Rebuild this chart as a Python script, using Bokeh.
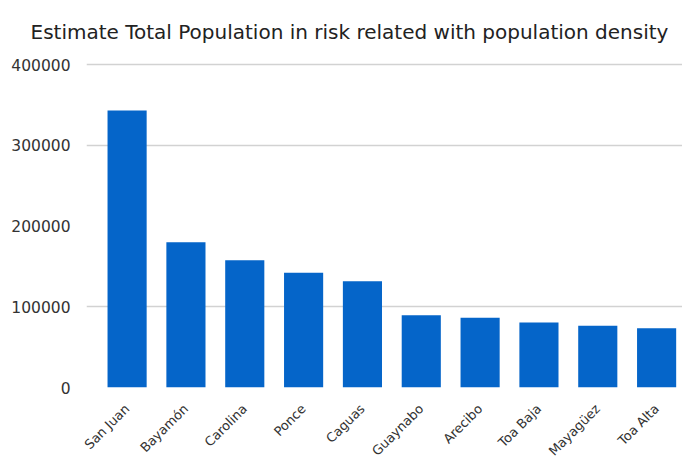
from bokeh.plotting import figure
from bokeh.models import Range1d, FixedTicker, BasicTickFormatter
from bokeh.embed import file_html
from bokeh.resources import INLINE

# Municipalities and estimated population at risk
cities = ["San Juan", "Bayamón", "Carolina", "Ponce", "Caguas",
          "Guaynabo", "Arecibo", "Toa Baja", "Mayagüez", "Toa Alta"]
population = [343000, 180000, 157500, 142000, 131500,
              89500, 86500, 80500, 76500, 73500]
y_ticks = [0, 100000, 200000, 300000, 400000]
grid_ticks = [100000, 300000, 400000]
title_text = "Estimate Total Population in risk related with population density"

positions = list(range(len(cities)))

font = "DejaVu Sans"
label_color = "#333333"

p = figure(width=682, height=469, output_backend="svg", toolbar_location=None,
           title=title_text,
           x_range=Range1d(-0.69, 9.44), y_range=Range1d(0, 402500),
           min_border_left=86, min_border_right=0, min_border_top=62,
           min_border_bottom=82)
p.outline_line_color = None
p.background_fill_color = "white"
p.border_fill_color = "white"

p.title.align = "left"
p.title.offset = -56
p.title.vertical_align = "top"
p.title.text_font = font
p.title.text_font_size = "20px"
p.title.text_font_style = "normal"
p.title.text_color = "#222222"
p.title.standoff = 33

p.vbar(x=positions, top=population, width=0.665, bottom=0,
       fill_color="#0565c9", line_color=None)

# y axis
p.yaxis.ticker = FixedTicker(ticks=y_ticks)
p.yaxis.formatter = BasicTickFormatter(use_scientific=False)
p.yaxis.axis_line_color = None
p.yaxis.major_tick_line_color = None
p.yaxis.minor_tick_line_color = None
p.yaxis.major_label_standoff = 10
p.yaxis.major_label_text_font = font
p.yaxis.major_label_text_font_size = "15.5px"
p.yaxis.major_label_text_color = label_color

# x axis with rotated city names
p.xaxis.ticker = FixedTicker(ticks=positions)
p.xaxis.major_label_overrides = {i: c for i, c in zip(positions, cities)}
p.xaxis.major_label_orientation = 0.785
p.xaxis.axis_line_color = None
p.xaxis.major_tick_line_color = None
p.xaxis.minor_tick_line_color = None
p.xaxis.major_label_standoff = 13
p.xaxis.major_label_text_font = font
p.xaxis.major_label_text_font_size = "13px"
p.xaxis.major_label_text_color = label_color

# grid
p.xgrid.grid_line_color = None
p.ygrid.ticker = FixedTicker(ticks=grid_ticks)
p.ygrid.grid_line_color = "#d2d2d2"
p.ygrid.grid_line_width = 1.5

open("out.html", "w").write(file_html(p, INLINE))
